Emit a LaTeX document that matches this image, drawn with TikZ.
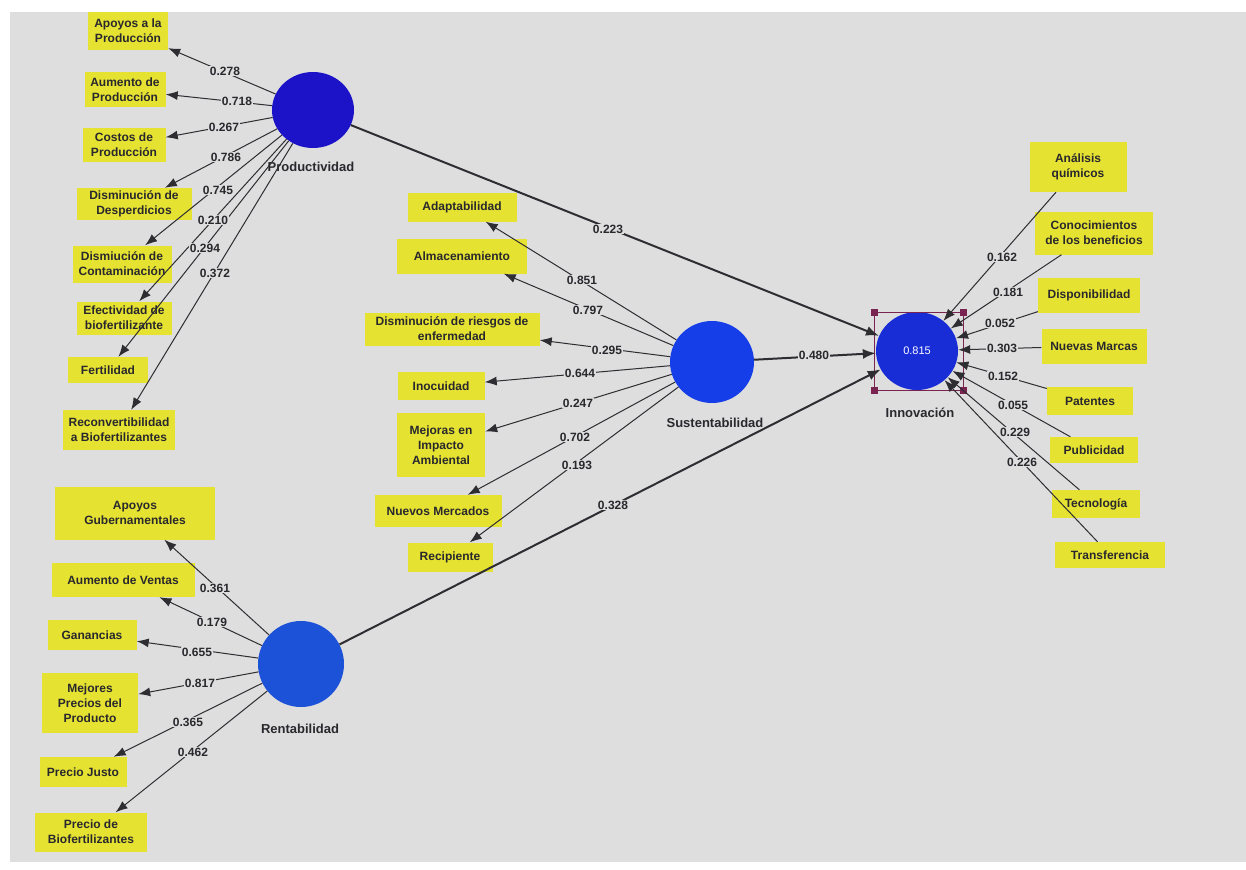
\documentclass[tikz,border=0pt]{standalone}
\usepackage{fontspec}
\setmainfont{Liberation Sans}
\usetikzlibrary{arrows.meta,shapes.geometric}
\definecolor{bg}{RGB}{222,222,222}
\definecolor{ybox}{RGB}{230,226,50}
\definecolor{txt}{RGB}{40,40,45}
\definecolor{lc}{RGB}{45,45,50}
\definecolor{cprod}{RGB}{28,18,200}
\definecolor{csust}{RGB}{22,62,232}
\definecolor{crent}{RGB}{28,82,216}
\definecolor{cinno}{RGB}{25,45,215}
\definecolor{selc}{RGB}{120,35,80}
\begin{document}
\begin{tikzpicture}[x=1pt,y=-1pt,
  ind/.style={fill=ybox, text=txt, font=\bfseries\fontsize{12}{15}\selectfont, align=center, inner sep=2pt},
  lv/.style={ellipse, fill=#1, draw=none, inner sep=0pt},
  lvname/.style={text=txt, font=\bfseries\fontsize{13}{15}\selectfont},
  coef/.style={fill=bg, text=txt, font=\bfseries\fontsize{12}{14}\selectfont, inner sep=1pt},
  ld/.style={draw=lc, line width=1pt, -{Latex[length=12pt,width=9pt]}},
  sp/.style={draw=lc, line width=2pt, -{Latex[length=13pt,width=10pt]}}]
\useasboundingbox (0,0) rectangle (1246,869);
\fill[white] (0,0) rectangle (1246,869);
\fill[bg] (10,12) rectangle (1246,862);

% latent variables
\node[lv=cprod, minimum width=82pt, minimum height=76pt] (P) at (313,110) {};
\node[lv=csust, minimum width=84pt, minimum height=82pt] (S) at (712,362) {};
\node[lv=crent, minimum width=86pt, minimum height=86pt] (R) at (301,664) {};
\node[lv=cinno, minimum width=82pt, minimum height=78pt, text=white, font=\fontsize{11}{12}\selectfont] (I) at (917,351) {0.815};
\node[lvname] (Pn) at (311,167) {Productividad};
\node[lvname] (Sn) at (715,423) {Sustentabilidad};
\node[lvname] (Rn) at (300,729) {Rentabilidad};
\node[lvname] (In) at (920,413) {Innovación};

% selection frame
\draw[selc, line width=0.9pt] (874,312) rectangle (963,390);
\foreach \cx/\cy in {874/312,963/312,874/390,963/390}
  \fill[selc] (\cx-3.5,\cy-3.5) rectangle (\cx+3.5,\cy+3.5);

% Productividad indicators
\node[ind, minimum width=80pt, minimum height=38pt] (pa) at (128,31) {Apoyos a la\\Producción};
\node[ind, minimum width=81pt, minimum height=35pt] (pb) at (125,90) {Aumento de\\Producción};
\node[ind, minimum width=83pt, minimum height=34pt] (pc) at (124,145) {Costos de\\Producción};
\node[ind, minimum width=115pt, minimum height=32pt] (pd) at (134,204) {Disminución de\\Desperdicios};
\node[ind, minimum width=99pt, minimum height=37pt] (pe) at (122,264) {Dismiución de\\Contaminación};
\node[ind, minimum width=95pt, minimum height=33pt] (pf) at (124,318) {Efectividad de\\biofertilizante};
\node[ind, minimum width=80pt, minimum height=26pt] (pg) at (108,370) {Fertilidad};
\node[ind, minimum width=112pt, minimum height=40pt] (ph) at (119,430) {Reconvertibilidad\\a Biofertilizantes};

% Sustentabilidad indicators
\node[ind, minimum width=109pt, minimum height=29pt] (sa) at (462,207) {Adaptabilidad};
\node[ind, minimum width=130pt, minimum height=35pt] (sb) at (462,256) {Almacenamiento};
\node[ind, minimum width=175pt, minimum height=33pt] (sc) at (452,329) {Disminución de riesgos de\\enfermedad};
\node[ind, minimum width=87pt, minimum height=28pt] (sd) at (441,386) {Inocuidad};
\node[ind, minimum width=88pt, minimum height=64pt] (se) at (441,445) {Mejoras en\\Impacto\\Ambiental};
\node[ind, minimum width=127pt, minimum height=32pt] (sf) at (438,511) {Nuevos Mercados};
\node[ind, minimum width=85pt, minimum height=29pt] (sg) at (450,557) {Recipiente};

% Innovacion indicators
\node[ind, minimum width=97pt, minimum height=50pt] (ia) at (1078,167) {Análisis\\químicos};
\node[ind, minimum width=118pt, minimum height=43pt] (ib) at (1094,233) {Conocimientos\\de los beneficios};
\node[ind, minimum width=102pt, minimum height=35pt] (ic) at (1089,295) {Disponibilidad};
\node[ind, minimum width=105pt, minimum height=35pt] (id) at (1094,346) {Nuevas Marcas};
\node[ind, minimum width=86pt, minimum height=28pt] (ie) at (1090,401) {Patentes};
\node[ind, minimum width=88pt, minimum height=26pt] (if) at (1094,450) {Publicidad};
\node[ind, minimum width=88pt, minimum height=28pt] (ig) at (1096,504) {Tecnología};
\node[ind, minimum width=110pt, minimum height=26pt] (ih) at (1110,555) {Transferencia};

% Rentabilidad indicators
\node[ind, minimum width=160pt, minimum height=53pt] (ra) at (135,513) {Apoyos\\Gubernamentales};
\node[ind, minimum width=143pt, minimum height=34pt] (rb) at (123,580) {Aumento de Ventas};
\node[ind, minimum width=89pt, minimum height=30pt] (rc) at (92,635) {Ganancias};
\node[ind, minimum width=96pt, minimum height=60pt] (rd) at (90,703) {Mejores\\Precios del\\Producto};
\node[ind, minimum width=87pt, minimum height=30pt] (re) at (83,772) {Precio Justo};
\node[ind, minimum width=112pt, minimum height=39pt] (rf) at (91,832) {Precio de\\Biofertilizantes};

% loadings
\foreach \t in {pa,pb,pc,pd,pe,pf,pg,ph} \draw[ld] (P) -- (\t);
\foreach \t in {sa,sb,sc,sd,se,sf,sg} \draw[ld] (S) -- (\t);
\foreach \t in {ra,rb,rc,rd,re,rf} \draw[ld] (R) -- (\t);
\foreach \t in {ia,ib,ic,id,ie,if,ig,ih} \draw[ld] (\t) -- (I);

% structural paths
\draw[sp] (P) -- (I);
\draw[sp] (S) -- (I);
\draw[sp] (R) -- (I);

% coefficients
\node[coef] (c1) at (225,71) {0.278};
\node[coef] (c2) at (237,101) {0.718};
\node[coef] (c3) at (224,127) {0.267};
\node[coef] (c4) at (226,157) {0.786};
\node[coef] (c5) at (218,190) {0.745};
\node[coef] (c6) at (213,220) {0.210};
\node[coef] (c7) at (205,248) {0.294};
\node[coef] (c8) at (215,273) {0.372};

\node[coef] (d1) at (582,280) {0.851};
\node[coef] (d2) at (588,310) {0.797};
\node[coef] (d3) at (607,350) {0.295};
\node[coef] (d4) at (580,373) {0.644};
\node[coef] (d5) at (578,403) {0.247};
\node[coef] (d6) at (575,437) {0.702};
\node[coef] (d7) at (577,465) {0.193};

\node[coef] (e1) at (1002,257) {0.162};
\node[coef] (e2) at (1008,292) {0.181};
\node[coef] (e3) at (1000,323) {0.052};
\node[coef] (e4) at (1002,348) {0.303};
\node[coef] (e5) at (1003,376) {0.152};
\node[coef] (e6) at (1013,405) {0.055};
\node[coef] (e7) at (1015,432) {0.229};
\node[coef] (e8) at (1022,462) {0.226};

\node[coef] (f1) at (215,588) {0.361};
\node[coef] (f2) at (212,622) {0.179};
\node[coef] (f3) at (197,652) {0.655};
\node[coef] (f4) at (200,683) {0.817};
\node[coef] (f5) at (188,722) {0.365};
\node[coef] (f6) at (193,752) {0.462};

\node[coef] (g1) at (608,229) {0.223};
\node[coef] (g2) at (814,355) {0.480};
\node[coef] (g3) at (613,505) {0.328};
\end{tikzpicture}
\end{document}
